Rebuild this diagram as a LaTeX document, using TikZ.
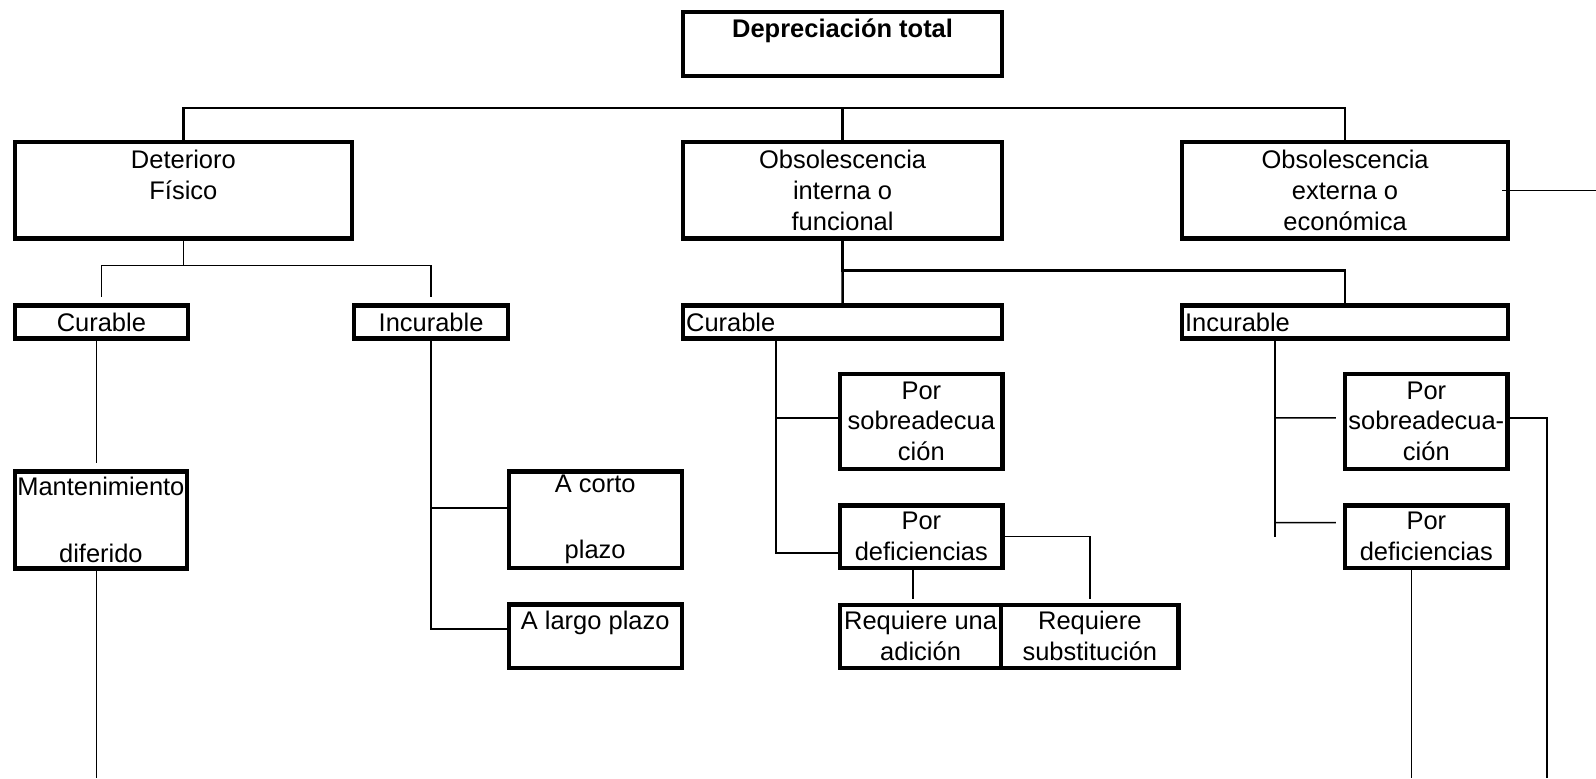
\documentclass[tikz,border=0pt]{standalone}
\usepackage{fontspec}
\setmainfont{Liberation Sans}
\usetikzlibrary{positioning,calc}

\tikzset{
  caja/.style={draw, line width=2.4pt, inner sep=0pt, align=center, anchor=north west},
  cajaizq/.style={caja, align=left, inner xsep=0.06cm},
  linea/.style={line width=0.85pt},
  barra/.style={line width=1.5pt}
}

\begin{document}
\begin{tikzpicture}[x=0.02cm, y=-0.02cm, font=\fontsize{14.5}{17.6}\selectfont]
      \useasboundingbox (0,0) rectangle (1596,778);
      \coordinate (fondo) at (0,778);
      \coordinate (borde) at (1596,0);

      \node (raiz)[caja, minimum width=6.38cm, minimum height=1.28cm] at (681,10) {\textbf{Depreciación total}\\\mbox{}};

      \node (deter)[caja, minimum width=6.74cm, minimum height=1.93cm] at (12.8,140) {Deterioro\\Físico\\\mbox{}};
      \node (inter)[caja, minimum width=6.38cm, minimum height=1.93cm] at (681,140) {Obsolescencia\\interna o\\funcional};
      \node (ext)[caja, minimum width=6.52cm, minimum height=1.93cm] at (1180,140) {Obsolescencia\\externa o\\económica};

      \node (cur1)[caja, minimum width=3.46cm, minimum height=0.66cm] at (12.8,303.3) {Curable};
      \node (inc1)[caja, minimum width=3.08cm, minimum height=0.66cm] at (352,303.3) {Incurable};
      \node (cur2)[cajaizq, text width=6.26cm, minimum height=0.66cm] at (681,303.3) {Curable};
      \node (inc2)[cajaizq, text width=6.40cm, minimum height=0.66cm] at (1180,303.3) {Incurable};

      \node (mant)[caja, minimum width=3.44cm, minimum height=1.94cm] at (12.8,469.3) {Mantenimiento\\[1.2pt]\mbox{}\\[1.2pt]diferido};
      \node (acorto)[caja, minimum width=3.46cm, minimum height=1.93cm] at (506.6,469.3) {A corto\\[1.2pt]\mbox{}\\[1.2pt]plazo};
      \node (alargo)[caja, minimum width=3.46cm, minimum height=1.27cm] at (506.6,602.3) {A largo plazo\\\mbox{}};

      \node (sobre1)[caja, minimum width=3.25cm, minimum height=1.9cm] at (838,371.7) {Por\\sobreadecua\\ción};
      \node (defic1)[caja, minimum width=3.25cm, minimum height=1.25cm] at (838,503.3) {Por\\deficiencias};
      \node (reqadd)[caja, minimum width=3.22cm, minimum height=1.26cm] at (838,602.7) {Requiere una\\adición};
      \node (reqsub)[caja, minimum width=3.55cm, minimum height=1.26cm] at (999,602.7) {Requiere\\substitución};

      \node (sobre2)[caja, minimum width=3.25cm, minimum height=1.9cm] at (1343,371.7) {Por\\sobreadecua-\\ción};
      \node (defic2)[caja, minimum width=3.25cm, minimum height=1.25cm] at (1343,503.3) {Por\\deficiencias};

      \draw[barra] (deter.north) -- +(0,-32) -| (ext.north);
      \draw[barra] (inter.north) -- +(0,-32);

      \draw[linea, shorten >=3.5pt] (deter.south) -- +(0,25) -| (cur1.north);
      \draw[linea, shorten >=3.5pt] (deter.south) -- +(0,25) -| (inc1.north);

      \coordinate (cm) at ([xshift=-0.1cm]cur1.south);
      \draw[linea, shorten >=3.4pt] (cm) -- (cm |- mant.north);
      \draw[linea] (cm |- mant.south) -- (cm |- fondo);

      \draw[linea] (inc1.south) |- ([yshift=0.23cm]acorto.west);
      \draw[linea] (inc1.south) |- ([yshift=0.14cm]alargo.west);

      \draw[barra] (inter.south) -- (cur2.north);
      \draw[barra] (inter.south) -- +(0,30) -| (inc2.north);

      \coordinate (cv) at ([xshift=1.9cm]cur2.south west);
      \draw[linea] (cv) |- ([yshift=0.07cm]sobre1.west);
      \draw[linea] (cv) |- ([yshift=-0.33cm]defic1.west);
      \draw[linea, shorten >=2pt] (defic1.east) -| (reqsub.north);
      \coordinate (dd) at ([xshift=-0.17cm]defic1.south);
      \draw[linea, shorten >=2pt] (dd) -- (dd |- reqadd.north);

      \coordinate (iv) at ([xshift=1.9cm]inc2.south west);
      \draw[linea] (iv) -- (iv |- defic2.west);
      \draw[linea, shorten >=4pt] (iv |- sobre2.west) ++(0,-3.5) -- ([yshift=0.07cm]sobre2.west);
      \draw[linea, shorten >=4pt] (iv |- defic2.west) ++(0,-14) -- ([yshift=0.28cm]defic2.west);

      \coordinate (fin) at (1547,778);
      \draw[linea] ([yshift=0.07cm]sobre2.east) -| (fin);
      \coordinate (dd2) at ([xshift=-0.3cm]defic2.south);
      \draw[linea] (dd2) -- (dd2 |- fondo);
      \draw[linea] ([xshift=-0.16cm]ext.east) -- (ext.east -| borde);

    \end{tikzpicture}
\end{document}
